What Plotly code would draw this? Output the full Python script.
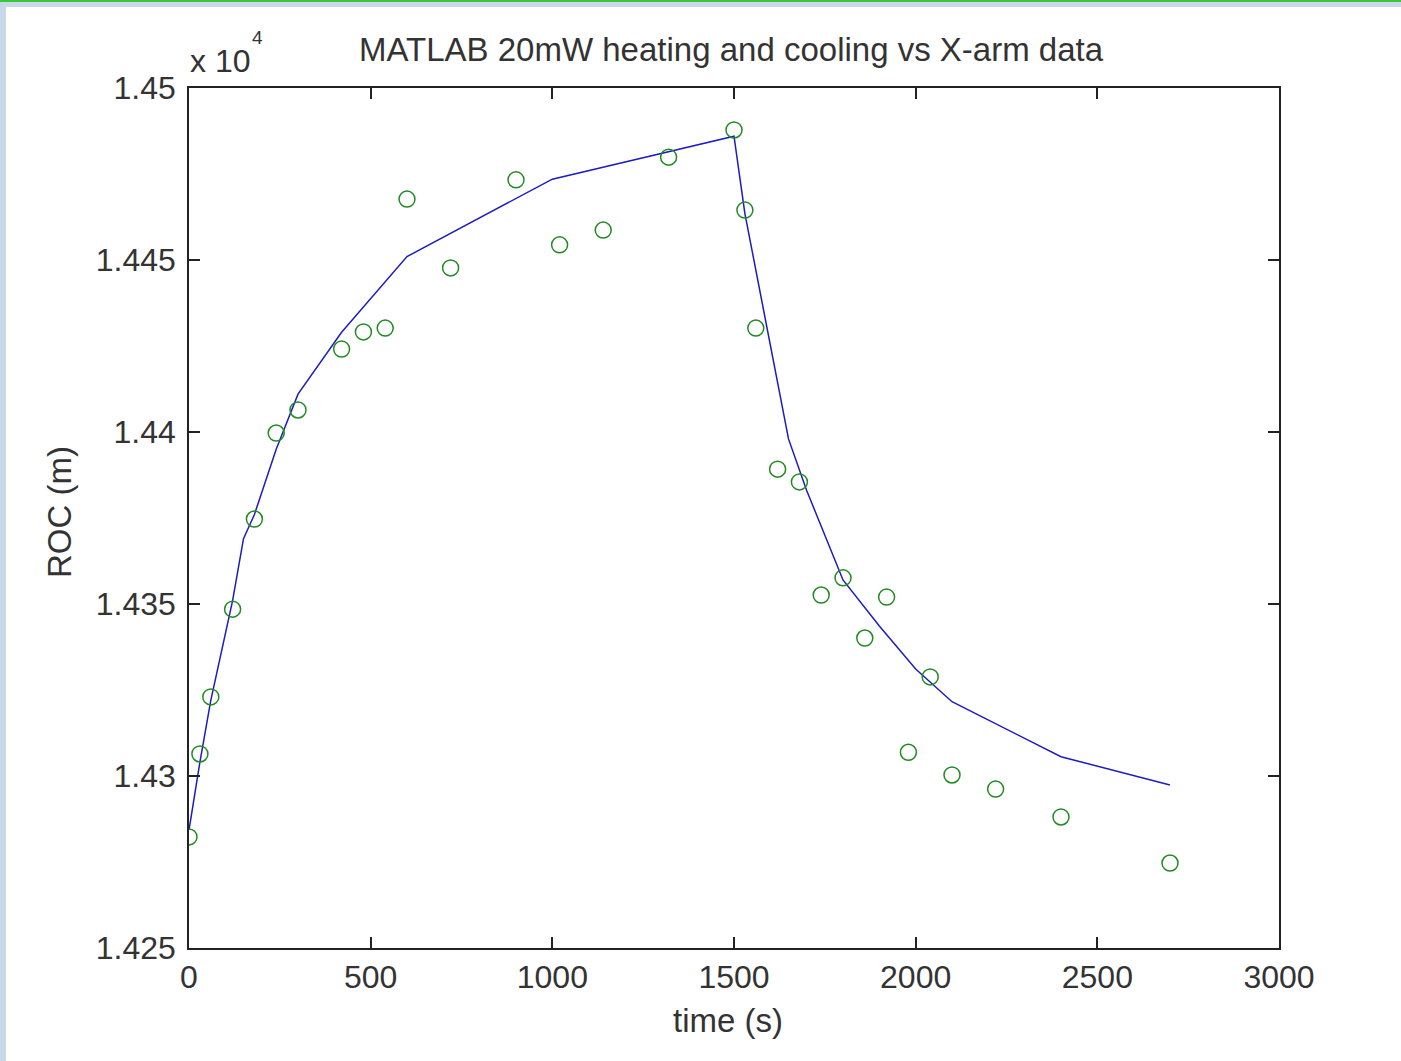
import plotly.graph_objects as go

# Measured data (X-arm)
data_t = [0, 30, 60, 120, 180, 240, 300, 420, 480, 540, 600, 720, 900, 1020, 1140, 1320,
          1500, 1530, 1560, 1620, 1680, 1740, 1800, 1860, 1920, 1980, 2040, 2100, 2220, 2400, 2700]
data_roc = [14282.3, 14306.4, 14323.0, 14348.5, 14374.7, 14399.7, 14406.4, 14424.1, 14429.1, 14430.2,
            14467.7, 14447.7, 14473.3, 14454.4, 14458.7, 14479.9, 14487.8, 14464.5, 14430.2, 14389.2,
            14385.5, 14352.6, 14357.6, 14340.1, 14352.0, 14306.9, 14328.8, 14300.3, 14296.2, 14288.1, 14274.7]

# MATLAB model curve
model_t = [0, 30, 60, 120, 150, 180, 240, 300, 420, 600, 1000, 1500, 1530, 1650, 1700,
           1800, 1900, 2000, 2100, 2400, 2700]
model_roc = [14284.3, 14304.0, 14322.0, 14351.0, 14369.0, 14376.0, 14395.0, 14411.0, 14429.0,
             14451.0, 14473.5, 14486.0, 14463.5, 14398.0, 14383.0, 14357.0, 14343.6, 14331.1,
             14321.6, 14305.6, 14297.4]

x_ticks = [0, 500, 1000, 1500, 2000, 2500, 3000]
y_ticks = [14250, 14300, 14350, 14400, 14450, 14500]
y_tick_labels = ["1.425", "1.43", "1.435", "1.44", "1.445", "1.45"]

FONT = "Liberation Sans, Arial, Helvetica, sans-serif"
W, H = 1401, 1061
L, R, T, B = 189, 122, 88, 113
PW, PH = W - L - R, H - T - B


def px(xp):
    return (xp - L) / PW


def py(yp):
    return (H - B - yp) / PH


fig = go.Figure()
fig.add_trace(go.Scatter(x=model_t, y=model_roc, mode="lines",
                         line=dict(color="#1c1cc0", width=1.5), showlegend=False))
fig.add_trace(go.Scatter(x=data_t, y=data_roc, mode="markers",
                         marker=dict(symbol="circle-open", size=16, color="#228a22",
                                     line=dict(width=1.5, color="#228a22")),
                         showlegend=False))

axis_common = dict(showline=True, linecolor="#222", linewidth=1.5, mirror="ticks",
                   ticks="inside", ticklen=11, tickwidth=1.5, tickcolor="#222",
                   showgrid=False, zeroline=False,
                   tickfont=dict(family=FONT, size=32, color="#333"))

fig.update_xaxes(range=[0, 3000], tickvals=x_ticks, ticktext=[str(v) for v in x_ticks],
                 ticklabelstandoff=0, **axis_common)
fig.update_yaxes(range=[14250, 14500], tickvals=y_ticks, ticktext=y_tick_labels,
                 ticklabelstandoff=5, **axis_common)

ann_font = dict(family=FONT, size=33, color="#333")
annotations = [
    dict(text="MATLAB 20mW heating and cooling vs X-arm data", x=px(731), y=py(50),
         xref="paper", yref="paper", xanchor="center", yanchor="middle", showarrow=False,
         font=ann_font),
    dict(text="x 10", x=px(188), y=py(61), xref="paper", yref="paper", xanchor="left",
         yanchor="middle", showarrow=False, font=dict(family=FONT, size=32, color="#333")),
    dict(text="4", x=px(250), y=py(38), xref="paper", yref="paper", xanchor="left",
         yanchor="middle", showarrow=False, font=dict(family=FONT, size=19, color="#333")),
    dict(text="time (s)", x=px(728), y=py(1021), xref="paper", yref="paper",
         xanchor="center", yanchor="middle", showarrow=False, font=ann_font),
    dict(text="ROC (m)", x=px(60), y=py(512), xref="paper", yref="paper",
         xanchor="center", yanchor="middle", textangle=-90, showarrow=False, font=ann_font),
]

shapes = [
    dict(type="rect", xref="paper", yref="paper", x0=px(0), x1=px(6), y0=py(H), y1=py(0),
         fillcolor="#c8d7ea", line=dict(width=0), layer="above"),
    dict(type="rect", xref="paper", yref="paper", x0=px(0), x1=px(W), y0=py(7), y1=py(2),
         fillcolor="#c8d7ea", line=dict(width=0), layer="above"),
    dict(type="rect", xref="paper", yref="paper", x0=px(0), x1=px(W), y0=py(2), y1=py(0),
         fillcolor="#3cc63c", line=dict(width=0), layer="above"),
]

fig.update_layout(width=W, height=H, margin=dict(l=L, r=R, t=T, b=B, autoexpand=False),
                  paper_bgcolor="white", plot_bgcolor="white",
                  annotations=annotations, shapes=shapes, showlegend=False)

fig.write_html("out.html", config={"displayModeBar": False},
               post_script="document.body.style.margin='0';document.body.style.overflow='hidden';")
